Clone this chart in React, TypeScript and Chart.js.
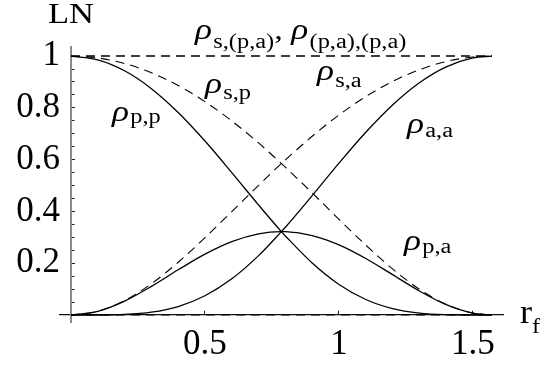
import React, { useEffect, useRef } from "react";
import { Chart, registerables } from "chart.js";

Chart.register(...registerables);

// r_f sample positions (0 … π/2)
const rF = [0, 0.1, 0.2, 0.3, 0.4, 0.5, 0.6, 0.7, 0.785, 0.8, 0.9, 1.0, 1.1, 1.2, 1.3, 1.4, 1.5, 1.571];

// Logarithmic negativity curves
const rhoSPA = [1, 1, 1, 1, 1, 1, 1, 1, 1, 1, 1, 1, 1, 1, 1, 1, 1, 1];
const rhoPAPA = [1, 1, 1, 1, 1, 1, 1, 1, 1, 1, 1, 1, 1, 1, 1, 1, 1, 1];
const rhoSP = [1, 0.9928, 0.9713, 0.9356, 0.8862, 0.8239, 0.7495, 0.6645, 0.585, 0.5709, 0.4714, 0.3695, 0.2699, 0.178, 0.0997, 0.0411, 0.0072, 0];
const rhoSA = [0, 0.0143, 0.0559, 0.1208, 0.2037, 0.2985, 0.3993, 0.5008, 0.585, 0.599, 0.6903, 0.7724, 0.8434, 0.902, 0.9474, 0.979, 0.9964, 1];
const rhoPP = [1, 0.9856, 0.9431, 0.8742, 0.7822, 0.6719, 0.5499, 0.4246, 0.3219, 0.3052, 0.2008, 0.118, 0.0598, 0.0247, 0.0074, 0.0012, 0.0, 0];
const rhoAA = [0, 0.0001, 0.0022, 0.011, 0.0328, 0.0743, 0.1397, 0.2293, 0.3219, 0.3389, 0.4611, 0.5863, 0.7056, 0.8112, 0.8969, 0.9583, 0.9928, 1];
const rhoPA = [0, 0.0142, 0.0537, 0.1106, 0.1746, 0.2351, 0.2835, 0.3136, 0.3219, 0.3217, 0.307, 0.2711, 0.2184, 0.1558, 0.0928, 0.0399, 0.0072, 0];
const rhoZero = [0, 0, 0, 0, 0, 0, 0, 0, 0, 0, 0, 0, 0, 0, 0, 0, 0, 0];

// Tick values
const xMajorTicks = [0.5, 1, 1.5];
const yMajorTicks = [0.2, 0.4, 0.6, 0.8, 1];
const yMinorTicks = [0.05, 0.1, 0.15, 0.25, 0.3, 0.35, 0.45, 0.5, 0.55, 0.65, 0.7, 0.75, 0.85, 0.9, 0.95];

const X_MIN = -0.041;
const X_MAX = 1.612;
const Y_MIN = -0.027;
const Y_MAX = 1.035;

const SERIF = "'Liberation Serif', 'Times New Roman', serif";
const F_RHO = `italic 29px ${SERIF}`;
const F_SUB = `20px ${SERIF}`;
const F_COMMA = `28px ${SERIF}`;
const SX = 1.22;

type Part = { t: string; font: string; dy: number; gap?: number };
type TextLabel = { parts: Part[]; x: number; y: number; sx: number };

const rho = (sub: string, drop: number): Part[] => [
  { t: "ρ", font: F_RHO, dy: 0, gap: 1 },
  { t: sub, font: F_SUB, dy: drop },
];

const textLabels: TextLabel[] = [
  {
    parts: [...rho("s,(p,a)", 9), { t: ", ", font: F_COMMA, dy: 0 }, ...rho("(p,a),(p,a)", 9)],
    x: 0.463, y: 1.066, sx: SX,
  },
  { parts: rho("s,p", 6), x: 0.5, y: 0.857, sx: SX },
  { parts: rho("s,a", 7), x: 0.918, y: 0.907, sx: SX },
  { parts: rho("a,a", 4), x: 1.254, y: 0.703, sx: SX },
  { parts: rho("p,p", 2), x: 0.153, y: 0.749, sx: SX },
  { parts: rho("p,a", 3), x: 1.243, y: 0.251, sx: SX },
  { parts: [{ t: "LN", font: `30px ${SERIF}`, dy: 0 }], x: -0.086, y: 1.127, sx: 1.15 },
  {
    parts: [
      { t: "r", font: `33px ${SERIF}`, dy: 0 },
      { t: "f", font: `22px ${SERIF}`, dy: 10 },
    ],
    x: 1.675, y: -0.031, sx: 1.1,
  },
];

const labelPlugin = {
  id: "curveLabels",
  afterDraw(chart: any) {
    const ctx: CanvasRenderingContext2D = chart.ctx;
    const xs = chart.scales.x;
    const ys = chart.scales.y;
    ctx.save();
    ctx.fillStyle = "#000";
    ctx.textBaseline = "alphabetic";
    ctx.textAlign = "left";
    for (const lab of textLabels) {
      const px = xs.getPixelForValue(lab.x);
      const py = ys.getPixelForValue(lab.y);
      ctx.save();
      ctx.translate(px, py);
      ctx.scale(lab.sx, 1);
      let cx = 0;
      for (const p of lab.parts) {
        ctx.font = p.font;
        ctx.fillText(p.t, cx, p.dy);
        cx += ctx.measureText(p.t).width + (p.gap || 0);
      }
      ctx.restore();
    }
    ctx.restore();
  },
};

const pts = (ys: number[]) => rF.map((x, i) => ({ x, y: ys[i] }));

const solid = (label: string, data: number[]) => ({
  label,
  data: pts(data),
  borderColor: "#000",
  borderWidth: 1.3,
  pointRadius: 0,
  cubicInterpolationMode: "monotone" as const,
  fill: false,
});

const dashed = (label: string, data: number[]) => ({
  ...solid(label, data),
  borderWidth: 1.1,
  borderDash: [9, 6],
});

export default function App() {
  const ref = useRef<HTMLCanvasElement | null>(null);

  useEffect(() => {
    if (!ref.current) return;
    const tickFont = { family: SERIF, size: 35 };
    const chart = new Chart(ref.current, {
      type: "line",
      data: {
        datasets: [
          dashed("ρ s,(p,a)", rhoSPA),
          dashed("ρ (p,a),(p,a)", rhoPAPA),
          dashed("ρ s,p", rhoSP),
          dashed("ρ s,a", rhoSA),
          dashed("zero", rhoZero),
          solid("ρ p,p", rhoPP),
          solid("ρ a,a", rhoAA),
          solid("ρ p,a", rhoPA),
        ],
      },
      options: {
        responsive: false,
        animation: false,
        layout: { padding: { left: 60, top: 47, right: 45, bottom: 47 } },
        plugins: { legend: { display: false }, tooltip: { enabled: false } },
        scales: {
          x: {
            type: "linear",
            min: X_MIN,
            max: X_MAX,
            position: { y: 0 } as any,
            border: { display: true, color: "#111", width: 1.2 },
            grid: { display: true, drawOnChartArea: false, drawTicks: true, tickLength: -4.5, tickColor: "#222", tickWidth: 1 },
            afterBuildTicks: (s: any) => {
              s.ticks = xMajorTicks.map((v) => ({ value: v }));
            },
            ticks: {
              color: "#000",
              font: tickFont,
              padding: 13.5,
              maxRotation: 0,
              autoSkip: false,
              callback: (v: any) => String(v),
            },
          },
          y: {
            type: "linear",
            min: Y_MIN,
            max: Y_MAX,
            position: { x: 0 } as any,
            border: { display: true, color: "#8a8a8a", width: 2 },
            grid: { display: true, drawOnChartArea: false, drawTicks: true, tickLength: -5, tickColor: "#222", tickWidth: 1 },
            afterBuildTicks: (s: any) => {
              s.ticks = yMajorTicks.map((v) => ({ value: v }));
            },
            ticks: { display: false },
          },
          yMinor: {
            axis: "y",
            type: "linear",
            min: Y_MIN,
            max: Y_MAX,
            position: { x: 0 } as any,
            border: { display: false },
            grid: { display: true, drawOnChartArea: false, drawTicks: true, tickLength: -3.5, tickColor: "#222", tickWidth: 1 },
            afterBuildTicks: (s: any) => {
              s.ticks = yMinorTicks.map((v) => ({ value: v }));
            },
            ticks: { display: false },
          },
          yLab: {
            axis: "y",
            type: "linear",
            min: Y_MIN,
            max: Y_MAX,
            position: { x: X_MIN } as any,
            border: { display: false },
            grid: { display: false, drawTicks: false },
            afterBuildTicks: (s: any) => {
              s.ticks = yMajorTicks.map((v) => ({ value: v }));
            },
            ticks: {
              color: "#000",
              font: tickFont,
              padding: 0,
              autoSkip: false,
              callback: (v: any) => String(v),
            },
          },
        } as any,
      },
      plugins: [labelPlugin],
    });
    return () => chart.destroy();
  }, []);

  return (
    <div style={{ position: "fixed", left: 0, top: 0, width: 548, height: 369, background: "#fff" }}>
      <canvas ref={ref} width={548} height={369} style={{ display: "block" }} />
    </div>
  );
}
